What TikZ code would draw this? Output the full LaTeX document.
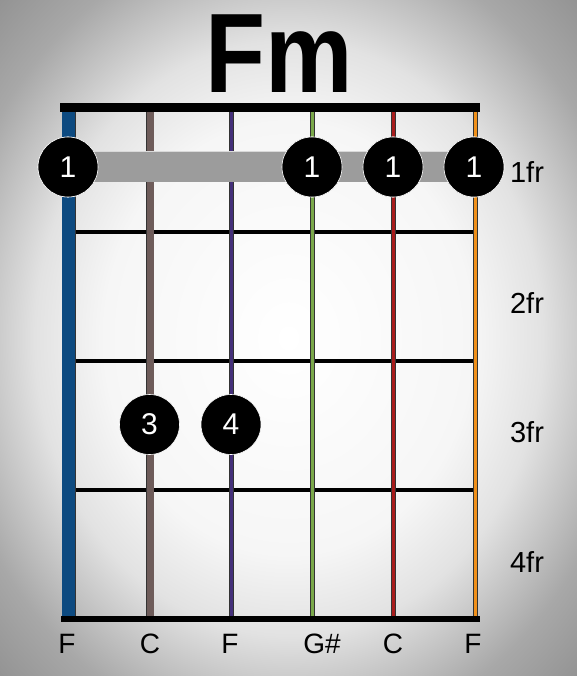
\documentclass[tikz,border=0pt]{standalone}
\usepackage{fontspec}
\usepackage{graphicx}
\setmainfont{Liberation Sans}
\usepackage{tikz}
\usetikzlibrary{
  positioning,
  calc
}
\definecolor{SBlue}{HTML}{0D4A80}
\definecolor{SBrown}{HTML}{6E5C5A}
\definecolor{SPurple}{HTML}{44307A}
\definecolor{SGreen}{HTML}{7AA84A}
\definecolor{SRed}{HTML}{A81C1C}
\definecolor{SOrange}{HTML}{F0901A}
\definecolor{BarreGray}{HTML}{9C9C9C}
\definecolor{VigA}{HTML}{F6F6F6}
\definecolor{VigB}{HTML}{E2E2E2}
\definecolor{VigC}{HTML}{A8A8A8}
\definecolor{VigD}{HTML}{7A7A7A}
\pgfdeclareradialshading{vignette}{\pgfpoint{0bp}{0bp}}{
  color(0bp)=(white); color(16bp)=(VigA);
  color(22bp)=(VigB); color(30bp)=(VigC);
  color(42bp)=(VigD); color(72bp)=(VigD)}
\tikzset{
  % Guitar string: colour and width
  gstring/.style 2 args={
    draw=black!80, line width=#2+1pt,
    postaction={draw=#1, line width=#2}
  },
  % Fret wire
  fretwire/.style={draw=black, line width=4pt},
  % Finger dot
  finger/.style={
    circle, fill=black, draw=white, line width=0.6pt,
    minimum size=60pt, inner sep=0pt,
    text=white, font=\fontsize{30}{30}\selectfont
  },
  % Fret number label
  frlbl/.style={font=\fontsize{29}{29}\selectfont, anchor=base, text=black},
  % Note name label
  notelbl/.style={font=\fontsize{28}{28}\selectfont, anchor=base, text=black}
}
\begin{document}
\begin{tikzpicture}[x=1pt, y=-1pt]
  \useasboundingbox (0,0) rectangle (577,676);
  % Vignette background
  \shade[shading=vignette] (0,0) rectangle (577,676);

  % Title
  \node[anchor=base, inner sep=0pt] (title) at (279,93)
    {\scalebox{0.87}[1]{\fontsize{113}{113}\selectfont\bfseries Fm}};

  % String ends
  \foreach \n/\x in {1/68.5, 2/150, 3/231.5, 4/312.5, 5/393.5, 6/475.5} {
    \coordinate (s\n t) at (\x,112);
    \coordinate (s\n b) at (\x,616);
  }

  % Fret wires
  \foreach \n/\y in {1/232, 2/361, 3/490} {
    \coordinate (f\n l) at (62,\y);
    \coordinate (f\n r) at (478,\y);
    \draw[fretwire] (f\n l) -- (f\n r);
  }

  % Strings
  \draw[gstring={SBlue}{13pt}]  (s1t) -- (s1b);
  \draw[gstring={SBrown}{7pt}]  (s2t) -- (s2b);
  \draw[gstring={SPurple}{3.5pt}] (s3t) -- (s3b);
  \draw[gstring={SGreen}{3.5pt}]  (s4t) -- (s4b);
  \draw[gstring={SRed}{3.5pt}]    (s5t) -- (s5b);
  \draw[gstring={SOrange}{3.5pt}] (s6t) -- (s6b);

  % Nut and bottom line
  \coordinate (nutl) at (60,107.5);
  \coordinate (nutr) at (480,107.5);
  \coordinate (endl) at (61,619);
  \coordinate (endr) at (480,619);
  \draw[black, line width=9pt] (nutl) -- (nutr);
  \draw[black, line width=6pt] (endl) -- (endr);

  % Finger dots
  \node[finger] (d1) at (68,167)  {1};
  \node[finger] (d4) at (312,167) {1};
  \node[finger] (d5) at (393,167) {1};
  \node[finger] (d6) at (474,167) {1};
  \node[finger] (d2) at (149.5,424.5) {3};
  \node[finger] (d3) at (231,424.5)   {4};

  % Barre behind the dots
  \draw[white!85!black, line width=31pt] (d1.center) -- (d6.center);
  \draw[BarreGray, line width=29.5pt] (d1.center) -- (d6.center);
  \foreach \d/\t in {d1/1, d4/1, d5/1, d6/1}
    \node[finger] at (\d) {\t};

  % Fret numbers
  \node[frlbl] (fr1) at (527,183) {1fr};
  \node[frlbl] (fr2) at (527,313) {2fr};
  \node[frlbl] (fr3) at (527,442) {3fr};
  \node[frlbl] (fr4) at (527,572) {4fr};

  % Note names
  \foreach \n/\x/\t in {1/67/F, 2/150/C, 3/230/F, 4/322/G\#, 5/393/C, 6/473/F}
    \node[notelbl] (note\n) at (\x,653) {\t};
\end{tikzpicture}
\end{document}
